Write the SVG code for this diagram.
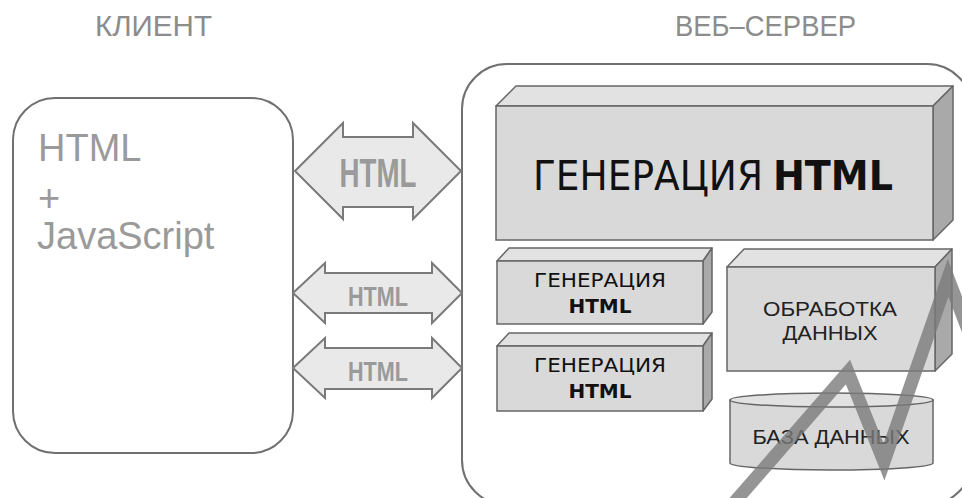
<svg xmlns="http://www.w3.org/2000/svg" width="962" height="498" viewBox="0 0 962 498">
  <style>
    .title { font-family: "Liberation Sans", Arial, sans-serif; font-size: 29px; fill: #8c8c8c; }
    .client-text { font-family: "Liberation Sans", Arial, sans-serif; font-size: 38px; fill: #9a9a9a; }
    .frame { fill: #ffffff; stroke: #707070; stroke-width: 2; }
    .arrow { fill: #e9e9e9; stroke: #7a7a7a; stroke-width: 2; stroke-linejoin: miter; }
    .arrow-label { font-family: "Liberation Sans Narrow", "Liberation Sans", Arial, sans-serif; font-weight: bold; fill: #9a9a9a; text-anchor: middle; }
    .front { fill: #d9d9d9; stroke: #666666; stroke-width: 1.5; }
    .top { fill: #e2e2e2; stroke: #666666; stroke-width: 1.5; stroke-linejoin: round; }
    .side { fill: #a9a9a9; stroke: #666666; stroke-width: 1.5; stroke-linejoin: round; }
    .gen { font-family: "DejaVu Sans", Verdana, sans-serif; fill: #111111; text-anchor: middle; }
    .data { font-family: "Liberation Sans", Arial, sans-serif; fill: #222222; text-anchor: middle; font-size: 21px; }
  </style>

  <!-- column headings -->
  <text class="title" x="95" y="36" textLength="117" lengthAdjust="spacingAndGlyphs">КЛИЕНТ</text>
  <text class="title" x="675" y="36" textLength="181" lengthAdjust="spacingAndGlyphs">ВЕБ–СЕРВЕР</text>

  <!-- client -->
  <g id="client">
    <rect class="frame" x="13" y="98" width="280" height="355" rx="42" ry="42"/>
    <text class="client-text" x="38" y="161">HTML</text>
    <text class="client-text" x="38" y="211">+</text>
    <text class="client-text" x="37" y="249">JavaScript</text>
  </g>

  <!-- web server -->
  <g id="server">
    <rect class="frame" x="462" y="64" width="510" height="441" rx="45" ry="45"/>
  </g>

  <!-- main HTML generation block -->
  <g id="gen-main">
    <polygon class="top" points="496,106 516,86 953,86 933,106"/>
    <polygon class="side" points="933,106 953,86 953,220 933,240"/>
    <rect class="front" x="496" y="106" width="437" height="134"/>
    <text class="gen" x="648" y="190" font-size="40" textLength="230" lengthAdjust="spacingAndGlyphs">ГЕНЕРАЦИЯ</text>
    <text class="gen" x="833" y="190" font-size="40" font-weight="bold" textLength="120" lengthAdjust="spacingAndGlyphs">HTML</text>
  </g>

  <!-- small HTML generation blocks -->
  <g id="gen-1">
    <polygon class="top" points="497,261 509,248 712,248 703,261"/>
    <polygon class="side" points="703,261 712,248 712,312 703,324"/>
    <rect class="front" x="497" y="261" width="206" height="63"/>
    <text class="gen" x="600" y="287" font-size="20" textLength="132" lengthAdjust="spacingAndGlyphs">ГЕНЕРАЦИЯ</text>
    <text class="gen" x="600" y="313" font-size="20" font-weight="bold">HTML</text>
  </g>
  <g id="gen-2">
    <polygon class="top" points="497,346 509,333 712,333 703,346"/>
    <polygon class="side" points="703,346 712,333 712,399 703,411"/>
    <rect class="front" x="497" y="346" width="206" height="65"/>
    <text class="gen" x="600" y="372" font-size="20" textLength="132" lengthAdjust="spacingAndGlyphs">ГЕНЕРАЦИЯ</text>
    <text class="gen" x="600" y="398" font-size="20" font-weight="bold">HTML</text>
  </g>

  <!-- data processing block -->
  <g id="processing">
    <polygon class="top" points="727,267 744,249 952,249 935,267"/>
    <polygon class="side" points="935,267 952,249 952,354 935,371"/>
    <rect class="front" x="727" y="267" width="208" height="104"/>
    <text class="data" x="830" y="316" textLength="134" lengthAdjust="spacingAndGlyphs">ОБРАБОТКА</text>
    <text class="data" x="830" y="340" textLength="95" lengthAdjust="spacingAndGlyphs">ДАННЫХ</text>
  </g>

  <!-- database cylinder -->
  <g id="database">
    <path class="front" d="M730,400 L730,463 A101.5,7 0 0 0 933,463 L933,400 Z"/>
    <ellipse class="top" cx="831.5" cy="400" rx="101.5" ry="7"/>
    <text class="data" x="831" y="444" font-size="22" textLength="157" lengthAdjust="spacingAndGlyphs">БАЗА ДАННЫХ</text>
  </g>

  <!-- connectors: double-headed transfer arrows -->
  <g id="connectors">
    <path class="arrow" d="M295,171 L343,123 L343,137 L413,137 L413,123 L461,171 L413,219 L413,207 L343,207 L343,219 Z"/>
    <text class="arrow-label" x="378" y="187" font-size="40" textLength="77" lengthAdjust="spacingAndGlyphs">HTML</text>

    <path class="arrow" d="M293,293 L325,263 L325,273 L432,273 L432,263 L462,293 L432,323 L432,313 L325,313 L325,323 Z"/>
    <text class="arrow-label" x="378" y="306" font-size="28" textLength="60" lengthAdjust="spacingAndGlyphs">HTML</text>

    <path class="arrow" d="M293,368 L325,338 L325,348 L432,348 L432,338 L462,368 L432,398 L432,389 L325,389 L325,398 Z"/>
    <text class="arrow-label" x="378" y="381" font-size="28" textLength="60" lengthAdjust="spacingAndGlyphs">HTML</text>
  </g>

  <!-- overlay mark, lower right -->
  <polyline points="732,505 848,372 884,462 948,278 968,330" fill="none" stroke="#7a7a7a" stroke-width="13" stroke-linejoin="miter" opacity="0.8"/>
</svg>
